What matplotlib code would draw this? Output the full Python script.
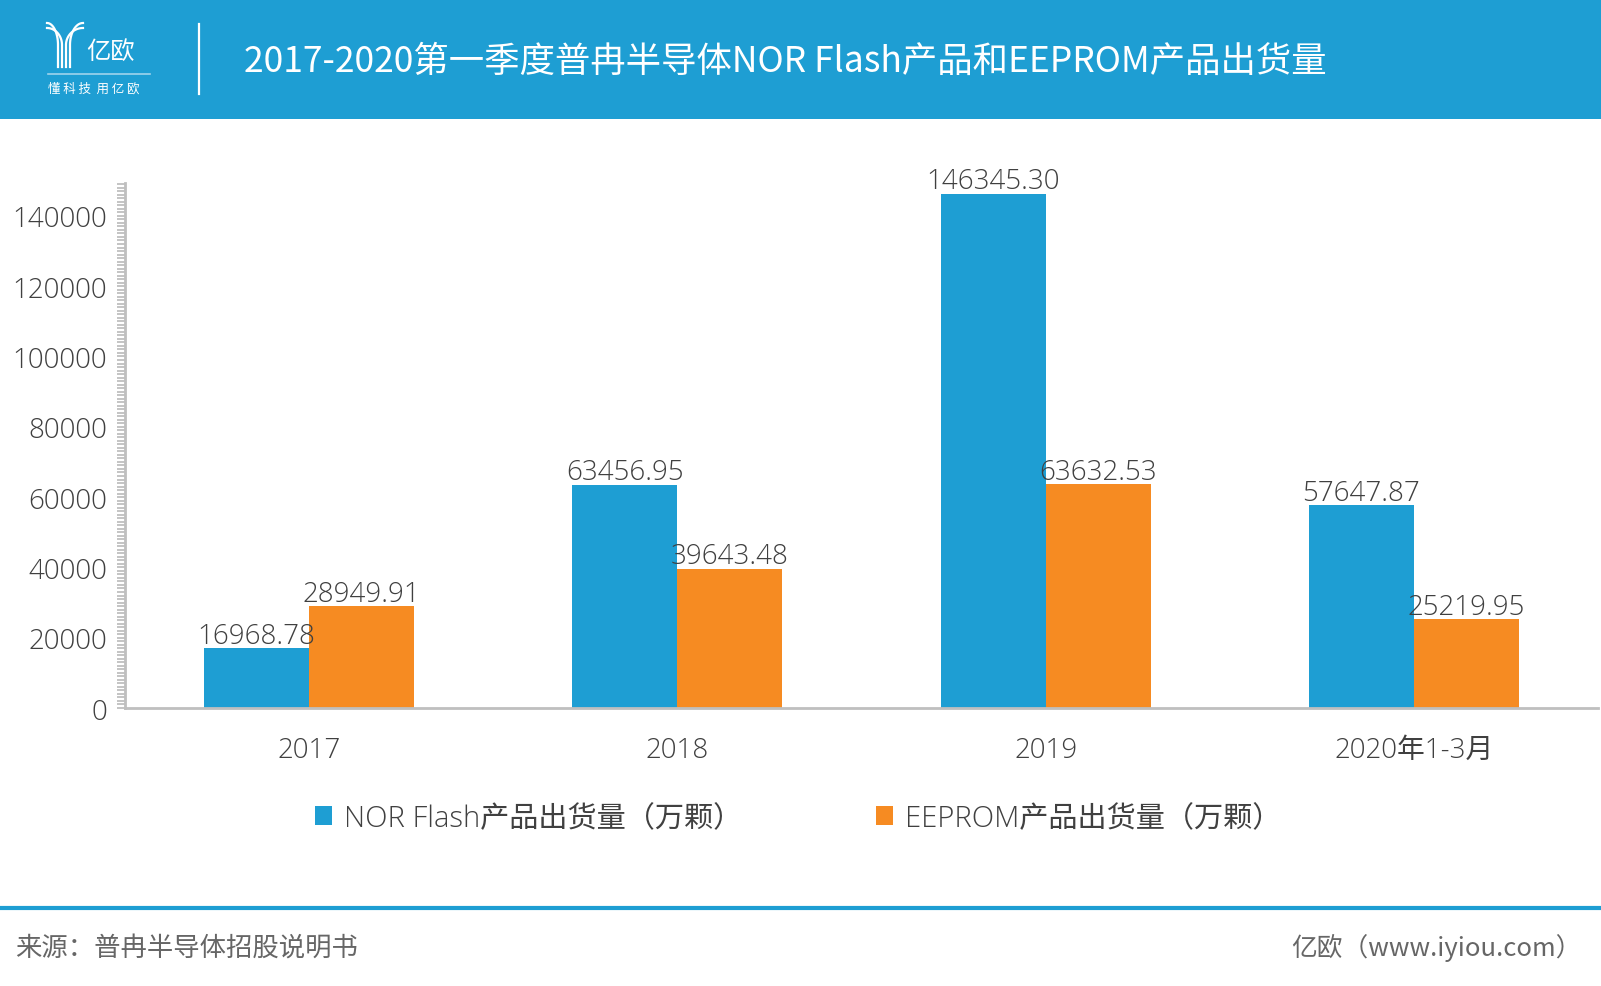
import matplotlib
matplotlib.use("Agg")
import matplotlib.pyplot as plt
from matplotlib.patches import Rectangle, Patch
from matplotlib.lines import Line2D
from matplotlib.ticker import MultipleLocator
import numpy as np

# ---------------- data ----------------
categories = ["2017", "2018", "2019", "2020年1-3月"]
nor_flash = [16968.78, 63456.95, 146345.30, 57647.87]
eeprom = [28949.91, 39643.48, 63632.53, 25219.95]
series_names = ["NOR Flash产品出货量（万颗）", "EEPROM产品出货量（万颗）"]
yticks = [0, 20000, 40000, 60000, 80000, 100000, 120000, 140000]
title = "2017-2020第一季度普冉半导体NOR Flash产品和EEPROM产品出货量"
source = "来源：普冉半导体招股说明书"
credit = "亿欧（www.iyiou.com）"

BLUE = "#1E9ED3"
ORANGE = "#F68B22"
HEADER = "#1E9ED3"
TXT = "#404040"
AXIS_GRAY = "#BFBFBF"

FONT = ["Open Sans", "Noto Sans CJK SC", "DejaVu Sans"]
CJK = ["Noto Sans CJK SC", "DejaVu Sans"]
plt.rcParams["font.family"] = FONT

W, H = 1601, 987
fig = plt.figure(figsize=(W / 100, H / 100), dpi=100)
fig.patch.set_facecolor("white")

def fx(x):
    return x / W

def fy(y):
    return 1 - y / H

# ---------------- header ----------------
fig.patches.append(Rectangle((0, fy(120)), 1, 120 / H, transform=fig.transFigure,
                             facecolor=HEADER, edgecolor="none", zorder=0))
fig.text(fx(244), fy(62), title, color="white", fontsize=25.5, family=CJK,
         fontweight="medium", ha="left", va="center")

# logo: stylised Y icon
stem_x = [58, 62, 66, 70]
for k, sx in enumerate(stem_x):
    t = np.linspace(0, 1, 40)
    if k < 2:
        x0 = 47
        y0 = 24 + k * 5
    else:
        x0 = 83
        y0 = 24 + (3 - k) * 5
    xs = x0 + (sx - x0) * np.sin(t * np.pi / 2)
    ys = y0 + (46 - y0) * (1 - np.cos(t * np.pi / 2))
    xs = np.concatenate([xs, [sx]])
    ys = np.concatenate([ys, [68]])
    fig.add_artist(Line2D(fx(xs), fy(ys), transform=fig.transFigure,
                          color="white", lw=1.6))
fig.text(fx(86), fy(52), "亿欧", color="white", fontsize=17.5, family=CJK,
         fontweight="light", ha="left", va="center")
fig.add_artist(Line2D([fx(48), fx(150)], [fy(75), fy(75)], transform=fig.transFigure,
                      color="#9FD3EC", lw=1.2))
fig.text(fx(48), fy(89), "懂 科 技  用 亿 欧", color="white", fontsize=9, family=CJK,
         ha="left", va="center")
fig.add_artist(Line2D([fx(199), fx(199)], [fy(25), fy(95)], transform=fig.transFigure,
                      color="white", lw=1.6))

# ---------------- axes ----------------
ax_left, ax_right = 125, 1598
ax_bottom, ax_top = 709, 183.5
ax = fig.add_axes([fx(ax_left), fy(ax_bottom), (ax_right - ax_left) / W,
                   (ax_bottom - ax_top) / H])
x = np.arange(len(categories))
bw = 0.285
b1 = ax.bar(x - bw / 2, nor_flash, width=bw, color=BLUE, zorder=2)
b2 = ax.bar(x + bw / 2, eeprom, width=bw, color=ORANGE, zorder=2)

for bars, vals in [(b1, nor_flash), (b2, eeprom)]:
    for rect, v in zip(bars, vals):
        ax.annotate(f"{v:.2f}", (rect.get_x() + rect.get_width() / 2, rect.get_height()),
                    xytext=(0, -1), textcoords="offset points", ha="center", va="bottom",
                    fontsize=20, color=TXT, fontweight="light")

ax.set_xlim(-0.5, len(categories) - 0.5)
ax.set_ylim(0, 149500)
ax.set_yticks(yticks)
ax.yaxis.set_minor_locator(MultipleLocator(1000))
ax.set_xticks(x)
ax.set_xticklabels(categories)
for s in ["top", "right"]:
    ax.spines[s].set_visible(False)
for s in ["left", "bottom"]:
    ax.spines[s].set_color(AXIS_GRAY)
    ax.spines[s].set_linewidth(2)
ax.tick_params(axis="y", which="both", length=6, width=1.3, color=AXIS_GRAY,
               direction="out", pad=7, labelsize=20, labelcolor=TXT)
ax.tick_params(axis="x", length=0, pad=20, labelsize=20, labelcolor=TXT)
for lab in ax.get_xticklabels() + ax.get_yticklabels():
    lab.set_fontweight("light")

# ---------------- legend ----------------
handles = [Patch(facecolor=BLUE, edgecolor="none"), Patch(facecolor=ORANGE, edgecolor="none")]
leg = fig.legend(handles, series_names, loc="center", bbox_to_anchor=(fx(798), fy(819)),
                 ncol=2, frameon=False, fontsize=21, handlelength=0.58, handleheight=0.58,
                 handletextpad=0.4, columnspacing=4.6, borderaxespad=0)
for t in leg.get_texts():
    t.set_color(TXT)
    t.set_fontweight("light")

# ---------------- footer ----------------
fig.add_artist(Line2D([0, 1], [fy(909), fy(909)], transform=fig.transFigure,
                      color=HEADER, lw=3))
fig.text(fx(15), fy(948), source, color="#666666", fontsize=19, family=CJK,
         fontweight="light", ha="left", va="center")
fig.text(fx(1582), fy(948), credit, color="#666666", fontsize=18.5, family=CJK,
         fontweight="light", ha="right", va="center")

fig.savefig("out.png", dpi=100)
